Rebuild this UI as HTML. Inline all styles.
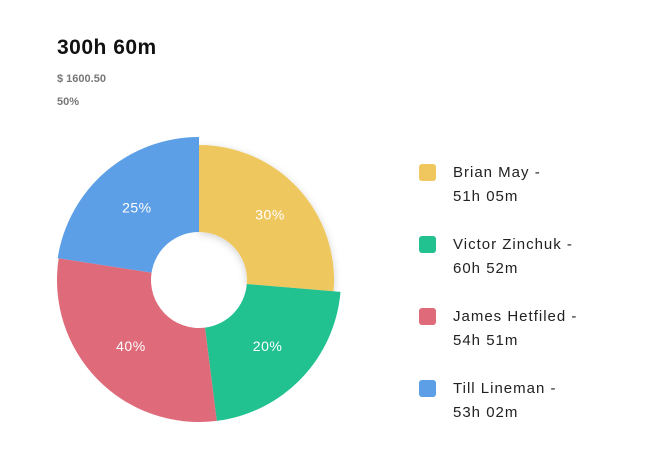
<!DOCTYPE html>
<html><head><meta charset="utf-8"><style>
body{margin:0;width:645px;height:460px;background:#fff;font-family:"Liberation Sans",sans-serif;overflow:hidden;position:relative}
.t{position:absolute;left:57px;top:36px;font-size:21px;font-weight:bold;color:#111;letter-spacing:0.5px}
.s{position:absolute;left:57px;font-size:11px;font-weight:bold;color:#777}
.leg{position:absolute;left:419px}
.sw{position:absolute;left:0;top:1px;width:17px;height:17px;border-radius:3px}
.lt{position:absolute;left:34px;top:-2px;font-size:15px;line-height:24px;color:#222;letter-spacing:1px;white-space:nowrap}
</style></head><body>
<div class="t">300h 60m</div>
<div class="s" style="top:73px">$ 1600.50</div>
<div class="s" style="top:96px">50%</div>
<svg id="chart" width="645" height="460" style="position:absolute;left:0;top:0">
<defs><filter id="sh" x="-30%" y="-30%" width="160%" height="160%"><feDropShadow dx="0" dy="2" stdDeviation="4" flood-color="#000" flood-opacity="0.18"/></filter></defs>
</svg>
<div id="legend"></div>
<script>
const names=["Brian May","Victor Zinchuk","James Hetfiled","Till Lineman"];
const times=["51h 05m","60h 52m","54h 51m","53h 02m"];
const sliceValues=[94.8,78,106,81.2];
const pctLabels=["30%","20%","40%","25%"];
const radii=[135,142,142,143];
const colors=["#efc75e","#22c190","#df6a79","#5c9fe6"];
const cx=199,cy=280,ri=48;
const svg=document.getElementById('chart');
const NS="http://www.w3.org/2000/svg";
const total=sliceValues.reduce((a,b)=>a+b,0);
function pt(a,r){const t=a*Math.PI/180;return [cx+r*Math.sin(t),cy-r*Math.cos(t)];}
let a0=0;
const lblR=[[271,214],[283,358],[123,358],[128,202]];
sliceValues.forEach((v,i)=>{
  const a1=a0+v/total*360;const r=radii[i];
  const p0=pt(a0,r),p1=pt(a1,r),q0=pt(a0,ri),q1=pt(a1,ri);
  const lg=(a1-a0)>180?1:0;
  const p=document.createElementNS(NS,'path');
  p.setAttribute('d',`M${p0} A${r},${r} 0 ${lg} 1 ${p1} L${q1} A${ri},${ri} 0 ${lg} 0 ${q0}Z`);
  p.setAttribute('fill',colors[i]);
  if(i===0)p.setAttribute('filter','url(#sh)');
  
  
  svg.appendChild(p);
  a0=a1;
});
a0=0;
sliceValues.forEach((v,i)=>{
  const a1=a0+v/total*360;const m=(a0+a1)/2;
  const c=pt(m,(ri+radii[i])/2+ (i===0?5:0));
  const t=document.createElementNS(NS,'text');
  t.setAttribute('x',c[0]);t.setAttribute('y',c[1]+5);
  t.setAttribute('text-anchor','middle');t.setAttribute('fill','#fff');
  t.setAttribute('font-size','14');t.setAttribute('letter-spacing','0.5');
  t.textContent=pctLabels[i];
  
  
  svg.appendChild(t);
  a0=a1;
});
const lg=document.getElementById('legend');
names.forEach((n,i)=>{
  const d=document.createElement('div');d.className='leg';d.style.top=(163+i*72)+'px';
  
  
  d.innerHTML=`<div class="sw" style="background:${colors[i]}"></div><div class="lt">${n} -<br>${times[i]}</div>`;
  lg.appendChild(d);
});
</script>
</body></html>
